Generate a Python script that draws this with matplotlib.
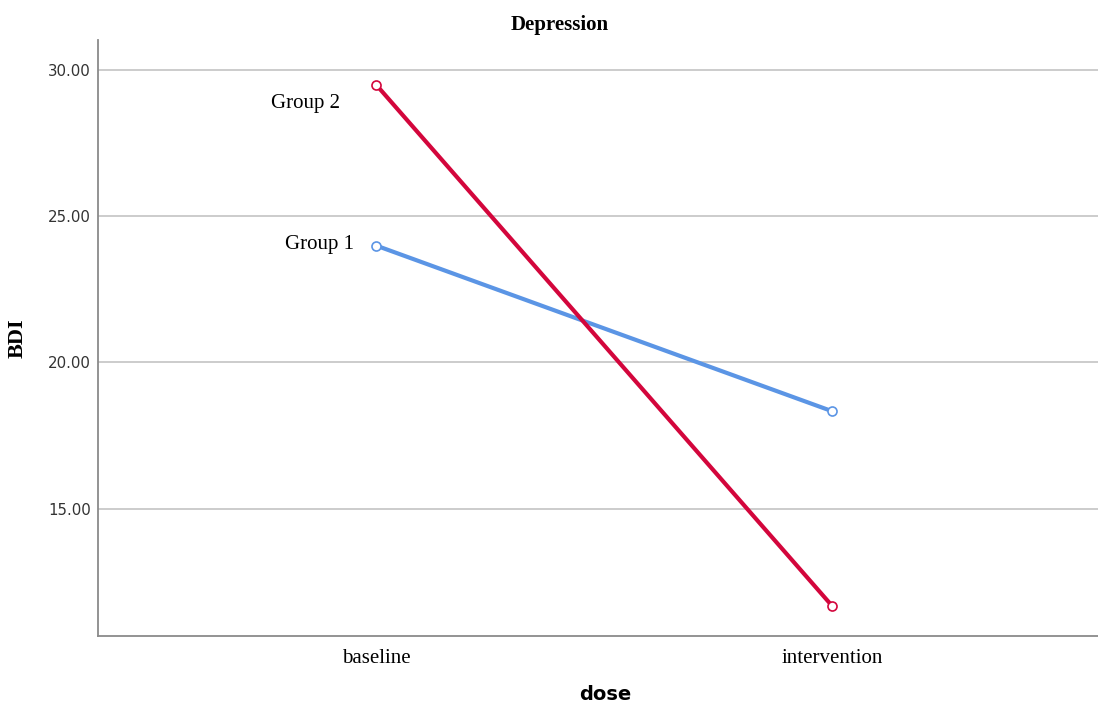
import matplotlib
matplotlib.use("Agg")
import matplotlib.pyplot as plt

# ----- DATA -----
doses = ["baseline", "intervention"]
group1 = [23.99, 18.33]
group2 = [29.49, 11.68]
group_names = ["Group 1", "Group 2"]
y_ticks = [15, 20, 25, 30]

blue = "#5b95e5"
red = "#d3063c"

fig = plt.figure(figsize=(10.98, 7.07), dpi=100)
ax = fig.add_axes([0.089, 0.1004, 0.911, 0.8430])

x = list(range(len(doses)))
ax.plot(x, group1, color=blue, lw=3.0, marker="o", ms=6.5, mfc="white",
        mec=blue, mew=1.2, zorder=3)
ax.plot(x, group2, color=red, lw=3.0, marker="o", ms=6.5, mfc="white",
        mec=red, mew=1.2, zorder=3)

# group labels next to the baseline points
ax.annotate(group_names[0], (x[0], group1[0]), xytext=(-16, 1),
            textcoords="offset points", ha="right", va="center",
            family="Liberation Serif", fontsize=15)
ax.annotate(group_names[1], (x[0], group2[0]), xytext=(-26, -13.5),
            textcoords="offset points", ha="right", va="center",
            family="Liberation Serif", fontsize=15)

ax.set_xlim(-0.610, 1.583)
ax.set_ylim(10.65, 31.01)
ax.set_xticks(x)
ax.set_xticklabels(doses, family="Liberation Serif", fontsize=15)
ax.set_yticks(y_ticks)
ax.set_yticklabels([f"{v:.2f}" for v in y_ticks], fontsize=10.8, color="#333333")
ax.tick_params(axis="both", length=0)
ax.tick_params(axis="x", pad=9)
ax.tick_params(axis="y", pad=5)

ax.yaxis.grid(True, color="#c4c4c4", lw=1.2)
ax.set_axisbelow(True)
for s in ["top", "right"]:
    ax.spines[s].set_visible(False)
for s in ["left", "bottom"]:
    ax.spines[s].set_color("#8a8a8a")
    ax.spines[s].set_linewidth(1.3)

fig.text(560 / 1098, 1 - 25 / 707, "Depression", ha="center", va="center",
         family="Liberation Serif", fontweight="bold", fontsize=15)
fig.text(605 / 1098, 1 - 695 / 707, "dose", ha="center", va="center",
         fontweight="bold", fontsize=14)
fig.text(18 / 1098, 1 - 338 / 707, "BDI", ha="center", va="center",
         rotation=90, family="Liberation Serif", fontweight="bold", fontsize=16)

fig.savefig("out.png", dpi=100)
